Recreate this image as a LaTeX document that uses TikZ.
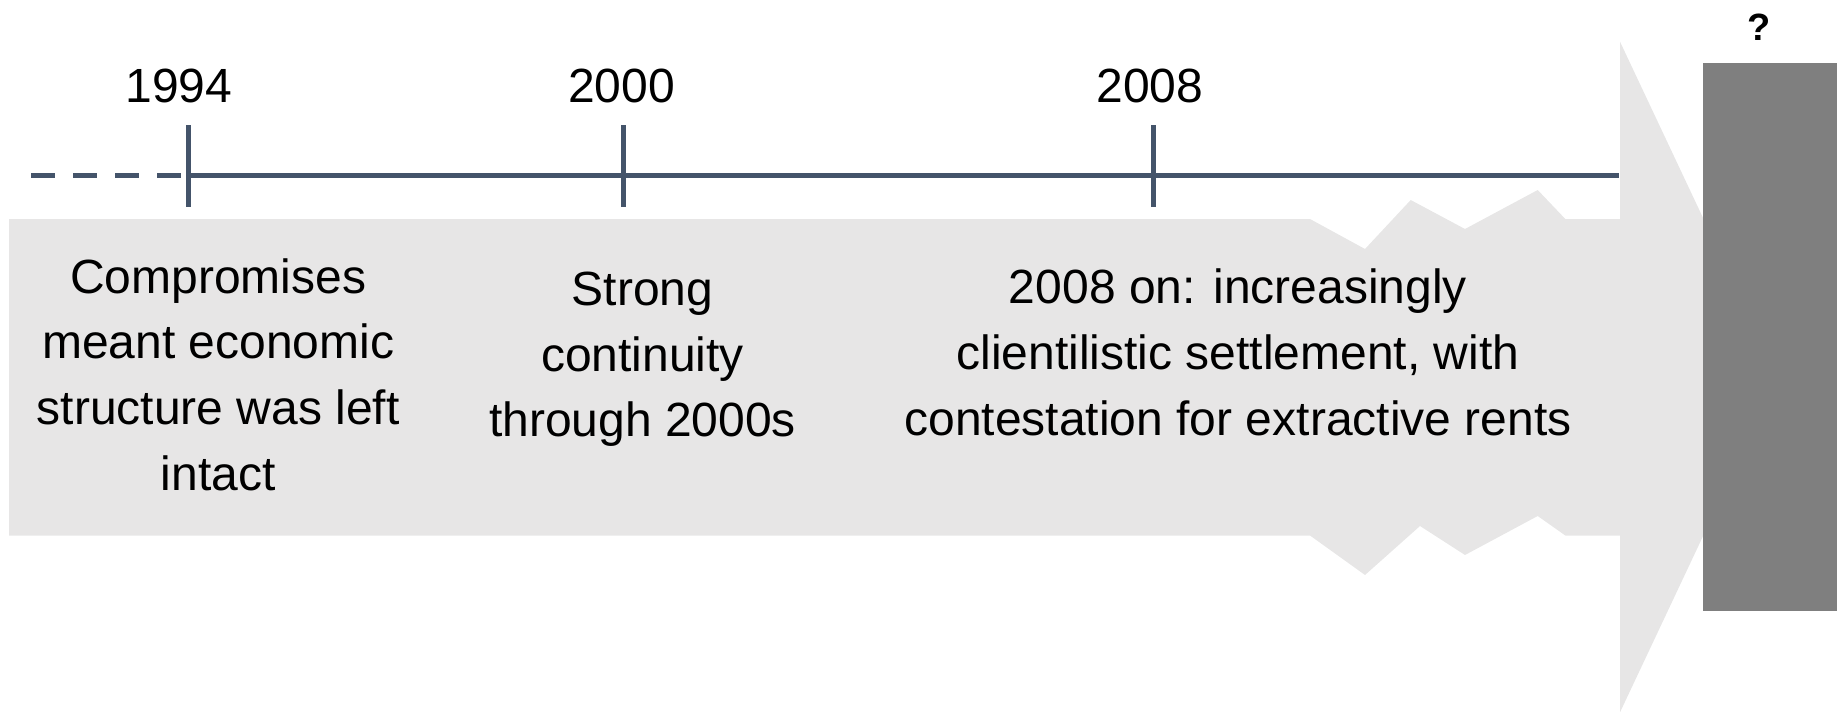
\documentclass[tikz,border=0pt]{standalone}
\usepackage{fontspec}
\setmainfont{Liberation Sans}
\definecolor{slate}{HTML}{44546A}
\definecolor{band}{HTML}{E7E6E6}
\definecolor{boxgray}{HTML}{7F7F7F}
\begin{document}
\begin{tikzpicture}[x=1pt,y=-1pt,
  txt/.style={font=\fontsize{48}{65.6}\selectfont, align=center, inner sep=0pt, anchor=north},
  yearlbl/.style={font=\fontsize{48}{58}\selectfont, inner sep=0pt, anchor=base},
  tl/.style={draw=slate, line width=5pt}]
\useasboundingbox (0,0) rectangle (1842,712);
% band arrow with torn edges
\fill[band] (9,219) -- (1310,219) -- (1365,249) -- (1410.7,200) -- (1465,229)
  -- (1537.7,190) -- (1565.3,219) -- (1620,219) -- (1620,41.7) -- (1778,377)
  -- (1620,712.3) -- (1620,535.5) -- (1565.3,535.5) -- (1537.7,516) -- (1465,555)
  -- (1420,526) -- (1365,575) -- (1310,535.5) -- (9,535.5) -- cycle;
% timeline
\coordinate (dstart) at (31,175);
\coordinate (t1) at (188,175);
\coordinate (t2) at (623.5,175);
\coordinate (t3) at (1153.5,175);
\coordinate (tend) at (1619,175);
\draw[tl, dash pattern=on 24pt off 18pt] (dstart) -- (t1);
\draw[tl] (t1) -- (tend);
\foreach \t in {t1,t2,t3}
  \draw[tl] ([yshift=50pt]\t) -- ([yshift=-32pt]\t);
% years
\node[yearlbl] (y1994) at (179,102.7) {1994};
\node[yearlbl] (y2000) at (621.5,102.7) {2000};
\node[yearlbl] (y2008) at (1150,102.7) {2008};
% texts
\node[txt] (c1) at (218.3,258.3) {Compromises\\meant economic\\structure was left\\intact};
\node[txt] (c2) at (642.5,271.7) {Strong\\continuity\\through 2000s};
\node[txt] (c3) at (1238,269) {2008 on: increasingly\\clientilistic settlement, with\\contestation for extractive rents};
% future box
\node[fill=boxgray, minimum width=134pt, minimum height=548pt, inner sep=0pt, anchor=north west] (fut) at (1703,62.7) {};
\node[font=\bfseries\fontsize{38}{42}\selectfont, anchor=base, inner sep=0pt] (q) at (1759,40.5) {?};
\end{tikzpicture}
\end{document}
